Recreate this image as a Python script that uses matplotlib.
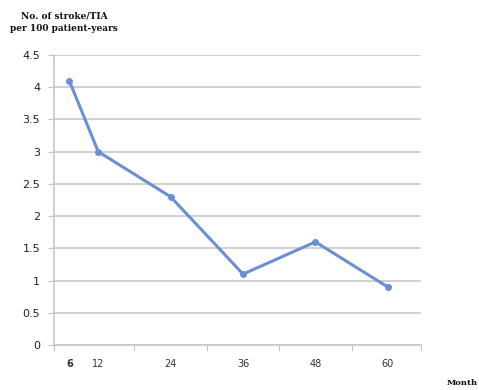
import numpy as np
import matplotlib
matplotlib.use("Agg")
import matplotlib.pyplot as plt

# Stroke/TIA incidence by follow-up month
months = [6, 12, 24, 36, 48, 60]
rates = [4.1, 3.0, 2.3, 1.1, 1.6, 0.9]
month_labels = ["6", "12", "24", "36", "48", "60"]
y_ticks = [0, 0.5, 1, 1.5, 2, 2.5, 3, 3.5, 4, 4.5]
y_tick_labels = ["0", "0.5", "1", "1.5", "2", "2.5", "3", "3.5", "4", "4.5"]

# the first interval (6-12 months) is drawn compressed
SQ = 0.8


def fwd(x):
    x = np.asarray(x, dtype=float)
    return np.where(x < 12, 12 - (12 - x) * SQ, x)


def inv(y):
    y = np.asarray(y, dtype=float)
    return np.where(y < 12, 12 - (12 - y) / SQ, y)


fig = plt.figure(figsize=(4.79, 3.90), dpi=100)
ax = fig.add_axes([54 / 479, 1 - 345 / 390, (421 - 54) / 479, (345 - 55) / 390])
ax.set_xscale("function", functions=(fwd, inv))

line_color = "#6b8fd3"
grid_color = "#c4c4c4"

ax.plot(months, rates, color=line_color, lw=2.2, marker="o", ms=4,
        markerfacecolor=line_color, markeredgecolor=line_color, zorder=3)

ax.set_ylim(0, 4.5)
ax.set_xlim(float(inv(12 - 44 / 6)), 60 + 33 / 6)

ax.set_yticks(y_ticks)
ax.set_yticklabels(y_tick_labels, fontsize=8, color="#222222")
ax.yaxis.grid(True, color=grid_color, lw=1.1)
ax.set_axisbelow(True)

# tick marks sit between categories, labels under the points
x0, x1 = ax.get_xlim()
ax.set_xticks([x0, 18, 30, 42, 54, x1])
ax.set_xticklabels([])
ax.set_xticks(months, minor=True)
ax.set_xticklabels(month_labels, minor=True, fontsize=7, color="#333333")
ax.tick_params(axis="x", which="minor", length=0, pad=10)
ax.tick_params(axis="x", which="major", length=4, color=grid_color, direction="out")
ax.tick_params(axis="y", length=4, color=grid_color, pad=6)
for lab in ax.get_xticklabels(minor=True):
    if lab.get_text() == "6":
        lab.set_fontweight("bold")

for side in ("top", "right"):
    ax.spines[side].set_visible(False)
for side in ("left", "bottom"):
    ax.spines[side].set_color(grid_color)
    ax.spines[side].set_linewidth(1.1)

fig.text(64 / 479, 1 - 22 / 390, "No. of stroke/TIA\nper 100 patient-years",
         ha="center", va="center", fontsize=6.5, fontweight="bold",
         family="DejaVu Serif", color="#111111", linespacing=1.5)
fig.text(478 / 479, 1 - 383 / 390, "Month", ha="right", va="center",
         fontsize=6, fontweight="bold", family="DejaVu Serif", color="#111111")

fig.savefig("out.png", dpi=100, facecolor="white")
